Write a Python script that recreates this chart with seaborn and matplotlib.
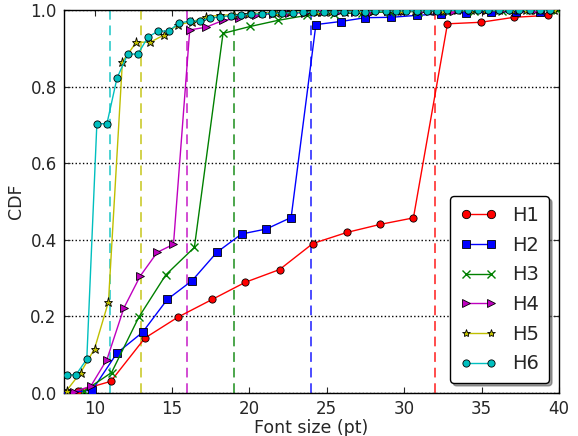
import pandas as pd
import matplotlib
matplotlib.use('Agg')
import matplotlib.pyplot as plt
import seaborn as sns

# values (font size in pt -> CDF)
h1_x = [8.9, 11.05, 13.25, 15.4, 17.6, 19.75, 21.95, 24.1, 26.3, 28.45, 30.6, 32.8, 34.95, 37.1, 39.3]
h1_y = [0.005, 0.03, 0.143, 0.198, 0.244, 0.289, 0.322, 0.39, 0.419, 0.44, 0.457, 0.964, 0.968, 0.981, 0.986]

h2_x = [8.25, 9.85, 11.45, 13.1, 14.7, 16.3, 17.9, 19.5, 21.1, 22.7, 24.3, 25.9, 27.5, 29.15, 30.8,
        32.4, 34.0, 35.6, 37.2, 38.8]
h2_y = [0.0, 0.007, 0.104, 0.158, 0.244, 0.293, 0.367, 0.415, 0.428, 0.458, 0.962, 0.97, 0.98, 0.981, 0.986,
        0.99, 0.993, 0.995, 0.995, 0.996]

h3_x = [9.3, 11.1, 12.85, 14.6, 16.45, 18.3, 20.05, 21.85, 23.7, 25.5, 27.3, 29.1, 30.9, 32.7, 34.5,
        36.3, 38.1, 39.9]
h3_y = [0.004, 0.053, 0.197, 0.308, 0.38, 0.939, 0.957, 0.973, 0.986, 0.99, 0.993, 0.995, 0.996, 0.997, 0.998,
        0.998, 0.999, 0.999]

h4_x = [8.65, 9.75, 10.8, 11.9, 12.95, 14.05, 15.1, 16.15, 17.2, 18.3, 19.35, 20.4, 21.5, 22.55, 23.6,
        24.7, 25.75, 26.8, 27.9, 28.95, 30.0, 31.1, 32.15, 33.2, 34.3, 35.35, 36.4, 37.5, 38.55, 39.6]
h4_y = [0.003, 0.017, 0.087, 0.222, 0.305, 0.367, 0.388, 0.948, 0.955, 0.973, 0.978, 0.987, 0.99, 0.992, 0.993,
        0.994, 0.995, 0.996, 0.996, 0.997, 0.997, 0.998, 0.998, 0.998, 0.999, 0.999, 0.999, 0.999, 1.0, 1.0]

h5_x = [8.2, 9.1, 10.0, 10.9, 11.8, 12.7, 13.6, 14.5, 15.4, 16.3, 17.2, 18.1, 19.0, 19.9, 20.8, 21.7, 22.6, 23.5,
        24.4, 25.3, 26.2, 27.1, 28.0, 28.9, 29.8, 30.7, 31.6, 32.5, 33.4, 34.3, 35.2, 36.1, 37.0, 37.9, 38.8, 39.7]
h5_y = [0.006, 0.053, 0.115, 0.238, 0.865, 0.916, 0.916, 0.935, 0.962, 0.969, 0.983, 0.986, 0.988, 0.99, 0.992,
        0.993, 0.994, 0.995, 0.995, 0.996, 0.996, 0.997, 0.997, 0.997, 0.998, 0.998, 0.998, 0.998, 0.999, 0.999,
        0.999, 0.999, 0.999, 1.0, 1.0, 1.0]

h6_x = [8.2, 8.8, 9.5, 10.15, 10.8, 11.45, 12.15, 12.8, 13.45, 14.1, 14.8, 15.45, 16.15, 16.8, 17.45, 18.1,
        18.8, 19.45, 20.1, 20.8, 21.45, 22.1, 22.8, 23.45, 24.1, 24.8, 25.45, 26.1, 26.8, 27.45, 28.1, 28.8,
        29.45, 30.1, 30.8, 31.45, 32.1, 32.8, 33.45, 34.1, 34.8, 35.45, 36.1, 36.8, 37.45, 38.1, 38.8, 39.45]
h6_y = [0.047, 0.047, 0.088, 0.703, 0.703, 0.822, 0.885, 0.885, 0.929, 0.945, 0.945, 0.966, 0.971, 0.971,
        0.979, 0.982, 0.985, 0.987, 0.989, 0.99, 0.991, 0.992, 0.993, 0.994, 0.994, 0.995, 0.995, 0.996, 0.996,
        0.996, 0.997, 0.997, 0.997, 0.998, 0.998, 0.998, 0.998, 0.999, 0.999, 0.999, 0.999, 0.999, 1.0, 1.0,
        1.0, 1.0, 1.0, 1.0]

# reference sizes, drawn as dashed vertical lines
ref_sizes = [32, 24, 19, 16, 13, 11]

labels = ['H1', 'H2', 'H3', 'H4', 'H5', 'H6']
colors = ['r', 'b', 'g', 'm', 'y', 'c']
markers = ['o', 's', 'x', '>', '*', 'o']
legend_ms = [6, 6, 5.5, 6, 6, 5.2]

series = [(h1_x, h1_y), (h2_x, h2_y), (h3_x, h3_y), (h4_x, h4_y), (h5_x, h5_y), (h6_x, h6_y)]
frames = [pd.DataFrame({'size': xs, 'cdf': ys, 'level': lab}) for (xs, ys), lab in zip(series, labels)]
df = pd.concat(frames, ignore_index=True)

sns.set_style('ticks')
plt.rcParams['font.family'] = ['DejaVu Sans']
plt.rcParams['xtick.direction'] = 'in'
plt.rcParams['ytick.direction'] = 'in'

fig = plt.figure(figsize=(5.78, 4.36), dpi=100)
ax = fig.add_axes([0.11, 0.099, 0.857, 0.878])

for size, col in zip(ref_sizes, colors):
    ax.axvline(size, color=col, ls=(0, (5, 3)), lw=1.4, alpha=0.7, zorder=1)

for lab, col, mk in zip(labels, colors, markers):
    sub = df[df['level'] == lab]
    edge = col if mk == 'x' else 'k'
    ms = 6.5 if mk == '*' else 5.2
    sns.lineplot(data=sub, x='size', y='cdf', ax=ax, color=col, marker=mk, markersize=ms,
                 markeredgecolor=edge, markeredgewidth=0.6 if mk != 'x' else 1.0,
                 lw=1, label=lab, estimator=None, sort=False, zorder=3)

ax.set_xlim(8, 40)
ax.set_ylim(0, 1.0)
ax.set_xticks([10, 15, 20, 25, 30, 35, 40])
ax.set_yticks([0.0, 0.2, 0.4, 0.6, 0.8, 1.0])
ax.yaxis.grid(True, color='k', ls=':', lw=1)
ax.xaxis.grid(False)
ax.tick_params(axis='both', labelsize=12, length=4, width=0.8, top=True, right=True, pad=5)
for sp in ax.spines.values():
    sp.set_color('k')
    sp.set_linewidth(1)
ax.set_xlabel('Font size (pt)', fontsize=12.5, labelpad=1)
ax.set_ylabel('CDF', fontsize=12.5, labelpad=4)

leg = ax.legend(loc='lower right', numpoints=2, fontsize=14, fancybox=True, shadow=True,
                frameon=True, handlelength=1.9, labelspacing=0.55, borderpad=0.5)
leg.get_frame().set_edgecolor('k')
leg.get_frame().set_alpha(1)
for handle, ms in zip(leg.legend_handles, legend_ms):
    handle.set_markersize(ms)

plt.savefig('out.png', dpi=100)
plt.close()
